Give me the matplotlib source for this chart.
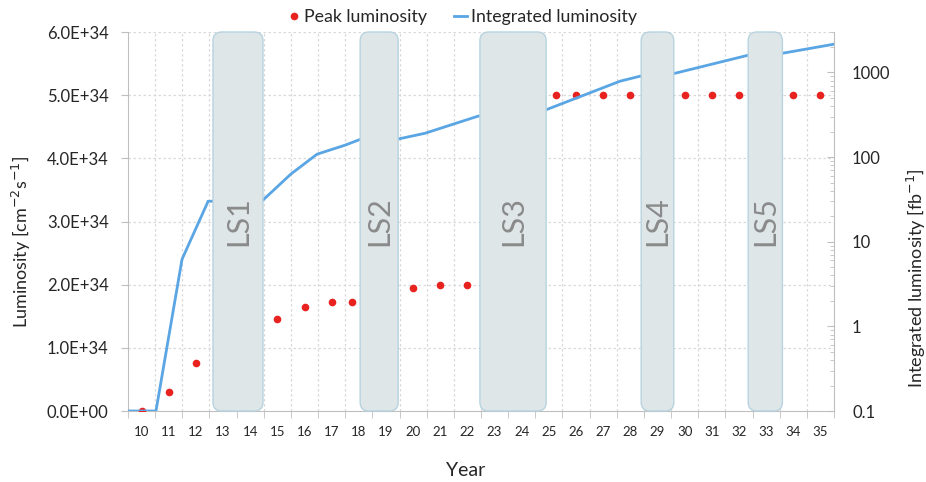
import numpy as np
import matplotlib
matplotlib.use('Agg')
import matplotlib.pyplot as plt
from matplotlib.patches import FancyBboxPatch
from matplotlib.ticker import FuncFormatter, LogLocator, NullFormatter
from matplotlib.lines import Line2D

plt.rcParams['font.family'] = ['Lato', 'DejaVu Sans']

# peak luminosity per year [cm^-2 s^-1]
peak_years = [10, 11, 12, 15, 16, 17, 17.76, 20, 21, 22, 25.26, 26, 27, 28, 30, 31, 32, 34, 35]
peak_lumi = [0.0, 0.3e34, 0.76e34, 1.45e34, 1.65e34, 1.73e34, 1.73e34, 1.95e34, 2.0e34, 2.0e34,
             5.0e34, 5.0e34, 5.0e34, 5.0e34, 5.0e34, 5.0e34, 5.0e34, 5.0e34, 5.0e34]

# integrated luminosity [fb^-1]
int_years = [9.5, 10.53, 11.49, 12.45, 14.47, 15.5, 16.46, 17.49, 18.08, 19.44, 20.44,
             22.39, 24.86, 27.62, 28.36, 29.65, 32.34, 33.62, 35.5]
int_lumi = [0.1, 0.1, 6.2, 30, 31, 63, 108, 138, 163, 163, 191,
            304, 358, 787, 902, 977, 1596, 1687, 2153]

# long shutdowns
ls_names = ['LS1', 'LS2', 'LS3', 'LS4', 'LS5']
ls_start = [12.63, 18.05, 22.46, 28.4, 32.34]
ls_end = [14.47, 19.45, 24.9, 29.6, 33.6]

year_labels = list(range(10, 36))

grid_col = '#d9d9d9'
axis_col = '#bfbfbf'
text_col = '#262626'

fig = plt.figure(figsize=(9.26, 4.82), dpi=100)
ax = fig.add_axes([128 / 926, 71 / 482, 706 / 926, 379 / 482])
ax2 = ax.twinx()

ax.set_xlim(9.5, 35.5)
ax.set_ylim(0, 6e34)
ax2.set_ylim(0.1, 3000)
ax2.set_yscale('log')

# grid
for yv in np.arange(1e34, 6.01e34, 1e34):
    ax.axhline(yv, color=grid_col, lw=0.9, ls=(0, (2, 2)), zorder=0)
for xv in np.arange(10.5, 35.5, 1):
    ax.axvline(xv, color=grid_col, lw=0.9, ls=(0, (2, 2)), zorder=0)

ax.plot(peak_years, peak_lumi, ls='none', marker='o', ms=5.5, color='#e8231f',
        markeredgewidth=0, zorder=3)

ax2.plot(int_years, int_lumi, color='#5aa5e4', lw=2, zorder=2, solid_joinstyle='miter')

# shutdown boxes drawn over the curve
fig.canvas.draw()
p0 = ax.transData.transform((0, 0))
p1 = ax.transData.transform((1, 1e34))
aspect = (p1[0] - p0[0]) / (p1[1] - p0[1]) * 1e34
for name, a, b in zip(ls_names, ls_start, ls_end):
    box = FancyBboxPatch((a, 0.0), b - a, 6e34,
                         boxstyle='round,pad=0,rounding_size=0.32',
                         mutation_aspect=aspect,
                         facecolor='#dfe6e8', edgecolor='#b7d3e0', lw=1.0,
                         transform=ax.transData, zorder=5, clip_on=False)
    ax2.add_patch(box)
    ax2.text((a + b) / 2, 3.0e34, name, transform=ax.transData, rotation=90,
             ha='center', va='center', fontsize=22, color='#8a8a8a', zorder=6)
ax2.set_ylim(0.1, 3000)

# axes styling
ax.spines['top'].set_visible(False)
ax2.spines['top'].set_visible(False)
ax2.spines['left'].set_visible(False)
ax2.spines['bottom'].set_visible(False)
ax.spines['right'].set_visible(False)
ax.spines['left'].set_color(axis_col)
ax.spines['bottom'].set_color(axis_col)
ax2.spines['right'].set_color(axis_col)

ax.set_xticks(year_labels)
ax.set_xticklabels([str(y) for y in year_labels])
ax.set_xticks(np.arange(9.5, 36, 1), minor=True)
ax.tick_params(axis='x', which='major', length=0, pad=11, labelsize=9.5, labelcolor=text_col)
ax.tick_params(axis='x', which='minor', length=5, color=axis_col, direction='out')

ax.set_yticks(np.arange(0, 6.01e34, 1e34))
ax.yaxis.set_major_formatter(FuncFormatter(
    lambda v, _: '0.0E+00' if v == 0 else f'{v / 1e34:.1f}E+34'))
ax.tick_params(axis='y', length=5, color=axis_col, labelsize=12, labelcolor=text_col, pad=9)

ax2.yaxis.set_major_locator(LogLocator(base=10, numticks=10))
ax2.yaxis.set_minor_locator(LogLocator(base=10, subs=np.arange(2, 10), numticks=20))
ax2.yaxis.set_minor_formatter(NullFormatter())
ax2.yaxis.set_major_formatter(FuncFormatter(lambda v, _: f'{v:g}'))
ax2.tick_params(axis='y', which='major', direction='in', length=5, color=axis_col,
                labelsize=12, labelcolor=text_col, pad=13)
ax2.tick_params(axis='y', which='minor', direction='in', length=3, color=axis_col)

ax.set_xlabel('Year', fontsize=14, color=text_col)
ax.xaxis.set_label_coords(0.478, -0.135)
ax.set_ylabel('Luminosity [cm$^{-2}$s$^{-1}$]', fontsize=13, color=text_col)
ax.yaxis.set_label_coords(-0.1346, 0.446)
ax2.set_ylabel('Integrated luminosity [fb$^{-1}$]', fontsize=13, color=text_col)
ax2.yaxis.set_label_coords(1.1, 0.35)

handles = [
    Line2D([], [], ls='none', marker='o', ms=5.5, color='#e8231f', markeredgewidth=0),
    Line2D([], [], color='#5aa5e4', lw=2),
]
leg = ax2.legend(handles, ['Peak luminosity', 'Integrated luminosity'], ncol=2,
                 loc='lower center', bbox_to_anchor=(0.473, 0.99), frameon=False,
                 fontsize=12.8, handlelength=0.75, handletextpad=0.2, columnspacing=1.5,
                 borderaxespad=0.2)
for t in leg.get_texts():
    t.set_color(text_col)

fig.savefig('out.png', dpi=100)
